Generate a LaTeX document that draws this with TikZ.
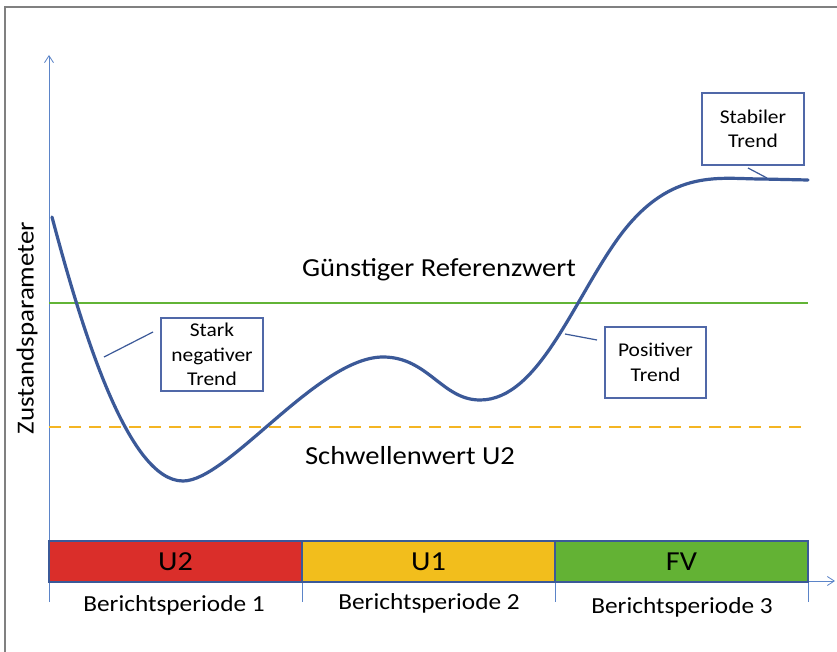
\documentclass[tikz,border=0pt]{standalone}
\usepackage{fontspec}
\setmainfont{Carlito}[FakeStretch=1.1]
\usetikzlibrary{arrows.meta}
\definecolor{curveblue}{HTML}{3B5998}
\definecolor{axisblue}{HTML}{5B84C8}
\definecolor{boxblue}{HTML}{5068A8}
\definecolor{refgreen}{HTML}{62B436}
\definecolor{barred}{HTML}{DA2E2A}
\definecolor{baryellow}{HTML}{F2BE1C}
\definecolor{bargreen}{HTML}{63B234}
\definecolor{dashorange}{HTML}{F4B523}
\definecolor{framegray}{HTML}{808080}
\tikzset{
  barseg/.style={draw=curveblue, line width=2pt, minimum height=41pt, inner sep=0pt, font=\fontsize{27.5}{32}\selectfont},
  trendbox/.style={draw=boxblue, line width=1.3pt, fill=white, inner sep=0pt, align=center, font=\fontsize{19.5}{24.5}\selectfont},
  axisline/.style={draw=axisblue, line width=0.8pt},
  pointer/.style={draw=curveblue, line width=1.2pt},
  biglabel/.style={font=\fontsize{26}{30}\selectfont, inner sep=0pt},
  perlabel/.style={font=\fontsize{23}{27}\selectfont, inner sep=0pt}
}
\begin{document}
\begin{tikzpicture}[x=1pt,y=-1pt]
\useasboundingbox (0,0) rectangle (837,652);
\fill[white] (0,0) rectangle (837,652);
% frame
\draw[framegray, line width=2pt] (5,652) -- (5,7) -- (837,7);
% axes
\coordinate (yb) at (49,602);
\coordinate (yt) at (49,55);
\coordinate (xl) at (49,581);
\coordinate (xr) at (835,581);
\draw[axisline, -{Straight Barb[length=7pt,width=9pt]}] (yb) -- (yt);
\draw[axisline, -{Straight Barb[length=7pt,width=9pt]}] (xl) -- (xr);
\foreach \x/\n in {302/t2,555/t3,808/t4}{
  \coordinate (\n a) at (\x,582);
  \coordinate (\n b) at (\x,602);
  \draw[axisline] (\n a) -- (\n b);
}
% reference lines
\coordinate (g1) at (49,303);
\coordinate (g2) at (808,303);
\draw[refgreen, line width=2.3pt] (g1) -- (g2);
\coordinate (o1) at (49,427);
\coordinate (o2) at (808,427);
\draw[dashorange, line width=2.3pt, dash pattern=on 12pt off 8pt] (o1) -- (o2);
% labels
\node[biglabel] (ref) at (439,270) {Günstiger Referenzwert};
\node[biglabel] (thr) at (410,456) {Schwellenwert U2};
\node[font=\fontsize{24.5}{28}\selectfont, rotate=90, inner sep=0pt] (ylab) at (27,328) {Zustandsparameter};
% bar
\node[barseg, fill=barred, minimum width=253pt] (b1) at (175.5,561.5) {U2};
\node[barseg, fill=baryellow, minimum width=253pt] (b2) at (428.5,561.5) {U1};
\node[barseg, fill=bargreen, minimum width=253pt] (b3) at (681.5,561.5) {FV};
\node[perlabel] (p1) at (174,605) {Berichtsperiode 1};
\node[perlabel] (p2) at (429,603) {Berichtsperiode 2};
\node[perlabel] (p3) at (682,607) {Berichtsperiode 3};
% curve
\coordinate (c0) at (52,217);
\coordinate (c1) at (183,481);
\coordinate (c2) at (383,357);
\coordinate (c3) at (480,400);
\coordinate (c4) at (622,233);
\coordinate (c5) at (762,179);
\coordinate (c6) at (808,180);
\draw[curveblue, line width=3.2pt, line cap=round]
  (c0) .. controls (82,330) and (128,481) .. (c1)
       .. controls (228,481) and (318,357) .. (c2)
       .. controls (428,357) and (442,400) .. (c3)
       .. controls (540,400) and (575,295) .. (c4)
       .. controls (672,168) and (720,179) .. (c5)
       -- (c6);
% trend boxes
\node[trendbox, minimum width=102pt, minimum height=73pt] (stark) at (212,354.5) {Stark\\negativer\\Trend};
\node[trendbox, minimum width=101pt, minimum height=71pt] (pos) at (655.5,362.5) {Positiver\\Trend};
\node[trendbox, minimum width=102pt, minimum height=72pt] (stab) at (753,129) {Stabiler\\Trend};
\coordinate (s1) at (153,332);
\coordinate (s2) at (104,357);
\draw[pointer] (s1) -- (s2);
\coordinate (q1) at (597,340);
\coordinate (q2) at (565,334);
\draw[pointer] (q1) -- (q2);
\coordinate (r1) at (748,168);
\coordinate (r2) at (767,178);
\draw[pointer] (r1) -- (r2);
\end{tikzpicture}
\end{document}
